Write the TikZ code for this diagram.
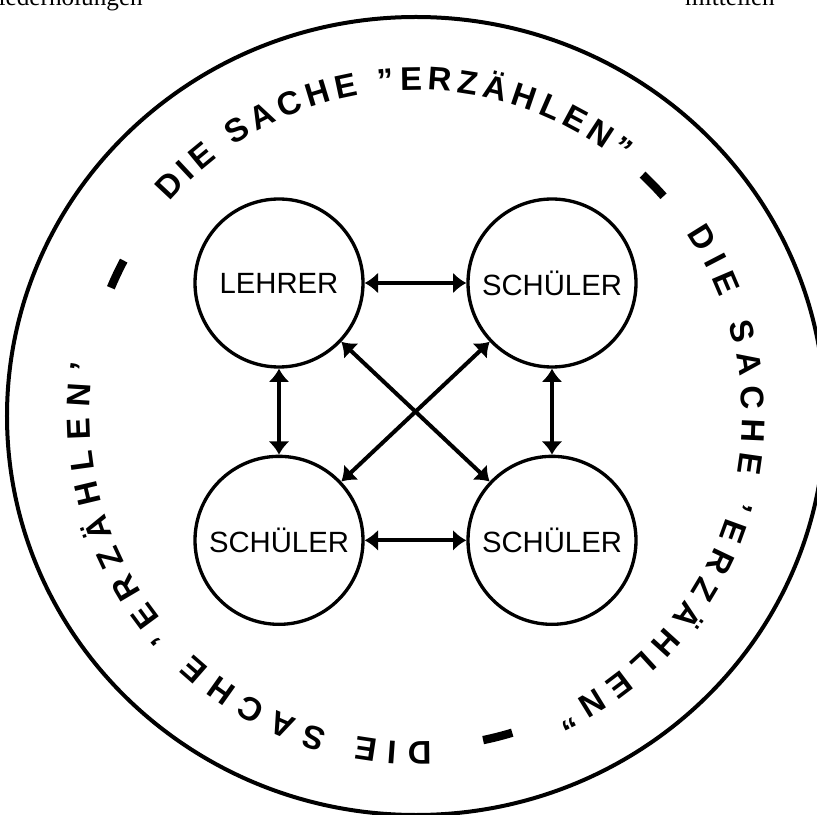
\documentclass[tikz,border=0pt]{standalone}
\usepackage{fontspec}
\setmainfont{Liberation Sans}
\newfontfamily\pageserif{Liberation Serif}
\usetikzlibrary{positioning,arrows.meta,decorations.text}

\newcommand\ringfont{\fontsize{28}{32}\selectfont\bfseries}

\begin{document}
\begin{tikzpicture}[
  x=0.3mm, y=0.3mm,
  node distance=25.8mm and 30.5mm,
  >={Latex[length=4mm,width=6.4mm]},
  person/.style={draw, circle, line width=1mm, minimum size=50.4mm, inner sep=0pt, font=\fontsize{25}{29}\selectfont},
  talk/.style={<->, line width=1.2mm},
  ring/.style={line width=1.2mm},
  ringbar/.style={line width=2.5mm},
  ringtext/.style={decorate, decoration={text along path, text={|\ringfont|#1}, text align={fit to path}}},
  cutoff/.style={font=\pageserif\fontsize{21.5}{25}\selectfont, inner sep=0pt}
]
  \useasboundingbox (0,0) rectangle (817,814);
  \clip (0,0) rectangle (817,814);

  % page text cut off at the top
  \node[cutoff, anchor=base east] (prevline) at (143,808) {Wiederholungen};
  \node[cutoff, anchor=base west] (nextline) at (685,808) {mitteilen};

  % outer ring
  \coordinate (mid) at (416,398);
  \draw[ring] (mid) ellipse[x radius=122.7mm, y radius=119.7mm];

  \path[ringtext={DIE SACHE "ERZÄHLEN"}]
    (mid) ++(139:97.8mm) arc[start angle=139, end angle=51, radius=97.8mm];
  \path[ringtext={DIE SACHE 'ERZÄHLEN"}]
    (mid) ++(34:97.8mm) arc[start angle=34, end angle=-65, radius=97.8mm];
  \path[ringtext={DIE SACHE 'ERZÄHLEN'}]
    (mid) ++(-87.3:97.8mm) arc[start angle=-87.3, end angle=-189, radius=97.8mm];

  \foreach \a in {154.6,44.2,-75.7}
    \draw[ringbar] (mid) ++(\a+2.6:99.3mm) arc[start angle=\a+2.6, end angle=\a-2.6, radius=99.3mm];

  % people
  \node[person] (lehrer) at (279,531) {LEHRER};
  \node[person, right=of lehrer] (schuelerA) {SCHÜLER};
  \node[person, below=of lehrer] (schuelerB) {SCHÜLER};
  \node[person, right=of schuelerB] (schuelerC) {SCHÜLER};

  \draw[talk] (lehrer) -- (schuelerA);
  \draw[talk] (lehrer) -- (schuelerB);
  \draw[talk] (lehrer) -- (schuelerC);
  \draw[talk] (schuelerA) -- (schuelerB);
  \draw[talk] (schuelerA) -- (schuelerC);
  \draw[talk] (schuelerB) -- (schuelerC);
\end{tikzpicture}
\end{document}
